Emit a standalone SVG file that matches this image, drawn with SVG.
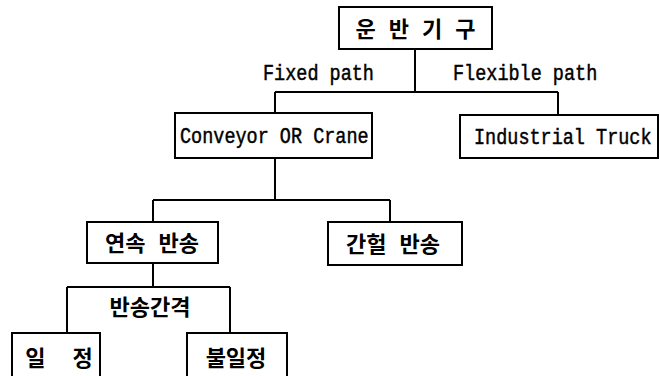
<svg xmlns="http://www.w3.org/2000/svg" width="660" height="376" viewBox="0 0 660 376">
<style>
.box{fill:#fff;stroke:#000;stroke-width:2}
.ln{fill:none;stroke:#000;stroke-width:2}
.en{font-family:"Liberation Mono",monospace;font-size:18.5px;fill:#000;stroke:#000;stroke-width:0.4}
.ko{font-family:"Noto Sans CJK KR",sans-serif;font-size:22px;font-weight:bold;fill:#000;text-anchor:middle}
</style>
<rect width="660" height="376" fill="#fff"/>
<g id="connectors">
<path class="ln" d="M415 49V92M275 92H558M275 92V113M558 92V115"/>
<path class="ln" d="M275 158V200M153 200H390M153 200V222M390 200V222"/>
<path class="ln" d="M153 263V287M67 287H230M67 287V333M230 287V333"/>
<text class="en" transform="translate(263 80) scale(1 1.15)">Fixed path</text>
<text class="en" transform="translate(453 80) scale(1 1.15)">Flexible path</text>
<text class="ko" x="150" y="315" font-size="21">반송간격</text>
</g>
<g id="root">
<rect class="box" x="339" y="7" width="153" height="42"/>
<text class="ko" x="422" y="37" font-size="23" letter-spacing="13">운반기구</text>
</g>
<g id="conveyor">
<rect class="box" x="175" y="113" width="197" height="45"/>
<text class="en" transform="translate(180 143) scale(1 1.15)">Conveyor OR Crane</text>
</g>
<g id="truck">
<rect class="box" x="460" y="115" width="198" height="43"/>
<text class="en" transform="translate(474 144) scale(1 1.15)">Industrial Truck</text>
</g>
<g id="continuous">
<rect class="box" x="87" y="222" width="131" height="41"/>
<text class="ko" x="152" y="251" word-spacing="8">연속 반송</text>
</g>
<g id="intermittent">
<rect class="box" x="328" y="222" width="134" height="43"/>
<text class="ko" x="393" y="252" word-spacing="8">간헐 반송</text>
</g>
<g id="constant">
<rect class="box" x="12" y="333" width="88" height="46"/>
<text class="ko" x="59" y="366" word-spacing="22">일 정</text>
</g>
<g id="variable">
<rect class="box" x="187" y="333" width="100" height="46"/>
<text class="ko" x="236" y="366">불일정</text>
</g>
</svg>
